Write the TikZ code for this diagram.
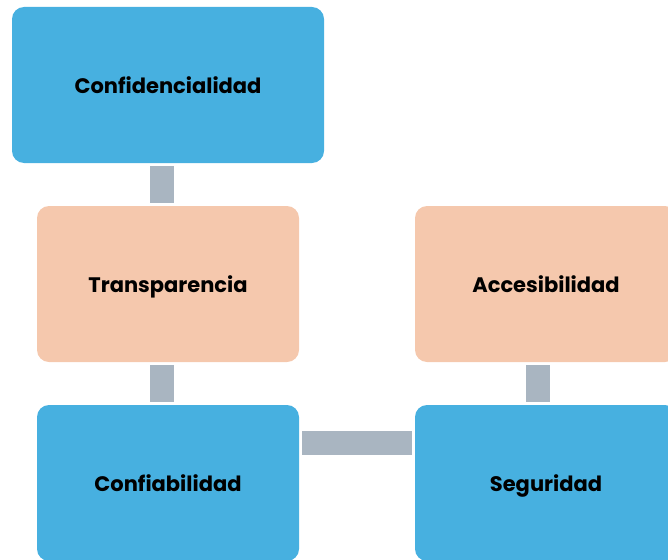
\documentclass[tikz,border=0pt]{standalone}
\usepackage{fontspec}
\setmainfont{Poppins}[BoldFont={* Bold}]
\definecolor{boxblue}{HTML}{47B0E0}
\definecolor{boxpeach}{HTML}{F5C8AD}
\definecolor{linkgray}{HTML}{A9B5C1}
\begin{document}
\begin{tikzpicture}[x=1pt,y=-1pt,
  card/.style={rounded corners=12pt, minimum height=156pt, inner sep=0pt,
    text height=21pt, text depth=4pt,
    font=\fontsize{21}{24}\selectfont\bfseries, text=black},
  bluecard/.style={card, fill=boxblue},
  peachcard/.style={card, fill=boxpeach},
  link/.style={draw=linkgray, line width=24pt, shorten <=3pt, shorten >=3pt}]
\useasboundingbox (0,0) rectangle (668,559);
\clip (0,0) rectangle (668,559);
\node[bluecard, minimum width=312pt] (conf) at (168,85) {Confidencialidad};
\node[peachcard, minimum width=262pt] (trans) at (168,284) {Transparencia};
\node[peachcard, minimum width=262pt] (acc) at (546,284) {Accesibilidad};
\node[bluecard, minimum width=262pt] (confi) at (168,483) {Confiabilidad};
\node[bluecard, minimum width=262pt] (seg) at (546,483) {Seguridad};
\draw[link] ([xshift=-6pt]conf.south) -- ([xshift=-6pt]trans.north);
\draw[link] ([xshift=-6pt]trans.south) -- ([xshift=-6pt]confi.north);
\draw[link] ([xshift=-8pt]acc.south) -- ([xshift=-8pt]seg.north);
\draw[link] ([yshift=40pt]confi.east) -- ([yshift=40pt]seg.west);
\end{tikzpicture}
\end{document}
